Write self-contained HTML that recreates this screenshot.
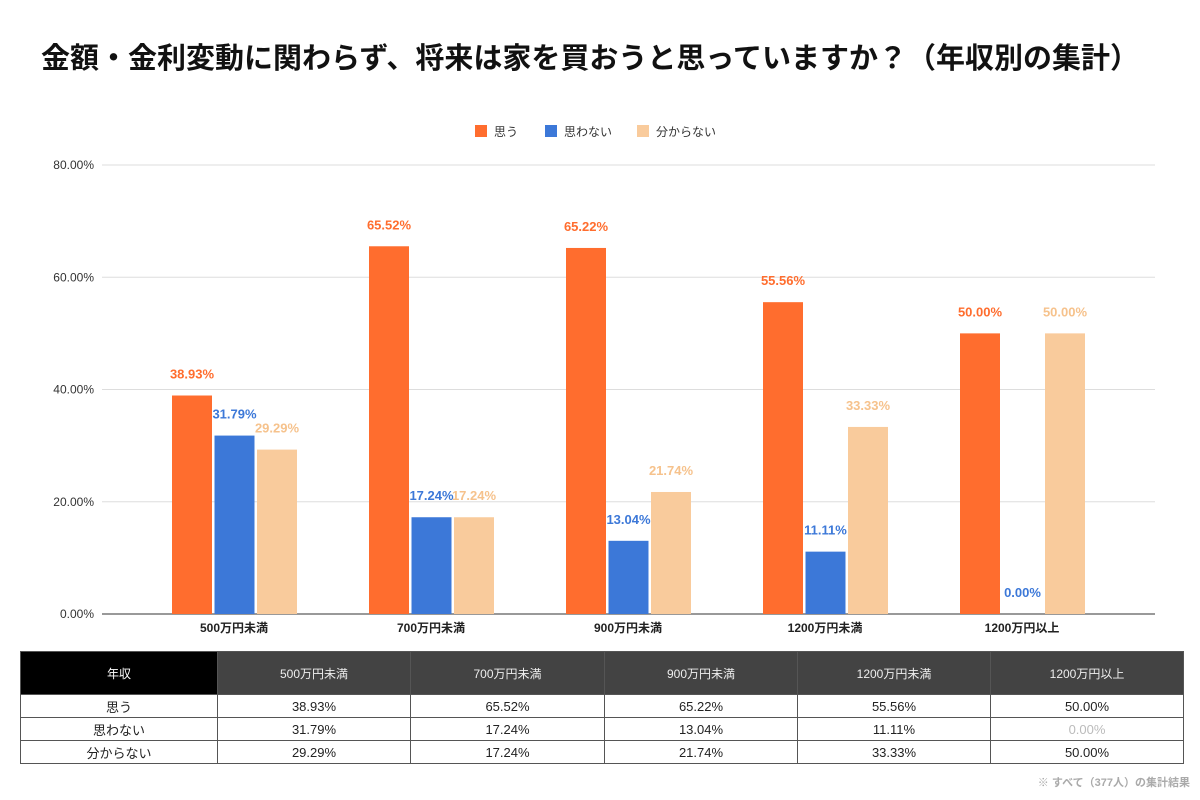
<!DOCTYPE html>
<html><head><meta charset="utf-8"><style>
body{margin:0;width:1200px;height:800px;background:#fff;font-family:"Liberation Sans","Noto Sans CJK JP",sans-serif;position:relative;overflow:hidden}
#title{position:absolute;left:0;top:35px;width:1180px;text-align:center;font-size:29px;font-weight:bold;color:#111;margin:0;white-space:nowrap}
svg{position:absolute;left:0;top:0}
table{position:absolute;left:20px;top:651px;width:1163px;border-collapse:collapse;table-layout:fixed;font-size:13px;color:#222}
td{border:1px solid #555;text-align:center;height:22px;padding:0}
tr.h td{background:#434343;color:#eee;height:42px;font-size:12px;border-color:#555}
tr.h td:first-child{background:#000;color:#fff}
#note{position:absolute;right:10px;top:774px;font-size:11px;color:#aaa;font-weight:bold}
</style></head><body>
<h1 id="title">金額・金利変動に関わらず、将来は家を買おうと思っていますか？（年収別の集計）</h1>
<svg id="chart" width="1200" height="650"></svg>
<table>
<colgroup><col style="width:197px"><col style="width:193px"><col style="width:194px"><col style="width:193px"><col style="width:193px"><col style="width:193px"></colgroup>
<tr class="h"><td>年収</td><td>500万円未満</td><td>700万円未満</td><td>900万円未満</td><td>1200万円未満</td><td>1200万円以上</td></tr>
<tr><td>思う</td><td>38.93%</td><td>65.52%</td><td>65.22%</td><td>55.56%</td><td>50.00%</td></tr>
<tr><td>思わない</td><td>31.79%</td><td>17.24%</td><td>13.04%</td><td>11.11%</td><td style="color:#bbb">0.00%</td></tr>
<tr><td>分からない</td><td>29.29%</td><td>17.24%</td><td>21.74%</td><td>33.33%</td><td>50.00%</td></tr>
</table>
<div id="note">※ すべて（377人）の集計結果</div>
<script>
const categories=["500万円未満","700万円未満","900万円未満","1200万円未満","1200万円以上"];
const seriesNames=["思う","思わない","分からない"];
const omou=[38.93,65.52,65.22,55.56,50.00];
const omowanai=[31.79,17.24,13.04,11.11,0.00];
const wakaranai=[29.29,17.24,21.74,33.33,50.00];
const yTicks=[0,20,40,60,80];
const colors=["#ff6d2e","#3c78d8","#f9cb9c"];
const NS="http://www.w3.org/2000/svg";
const svg=document.getElementById('chart');
const x0=102,x1=1155,y0=614,yTop=165;
const y=v=>y0-(v/80)*(y0-yTop);
const firstC=234,step=197;
function mk(t,a,txt){const e=document.createElementNS(NS,t);for(const k in a)e.setAttribute(k,a[k]);if(txt!==undefined)e.textContent=txt;svg.appendChild(e);return e;}
yTicks.forEach(t=>{
 const l=mk('line',{x1:x0,x2:x1,y1:y(t),y2:y(t),stroke:t===0?'#333':'#ddd','stroke-width':1});
 
 
 const tx=mk('text',{x:94,y:y(t)+4,'text-anchor':'end','font-size':12,fill:'#333'},t.toFixed(2)+'%');
 
 
});
const series=[omou,omowanai,wakaranai];
categories.forEach((c,i)=>{
 const cx=firstC+step*i;
 const tx=mk('text',{x:cx,y:y0+18,'text-anchor':'middle','font-size':12,'font-weight':'bold',fill:'#222'},c);
 
 
 series.forEach((s,j)=>{
  const bx=cx-62+j*42.5, v=s[i];
  const r=mk('rect',{x:bx,y:y(v),width:40,height:y0-y(v),fill:colors[j]});
  
  
  const lb=mk('text',{x:bx+20,y:y(v)-17,'text-anchor':'middle','font-size':13,'font-weight':'bold',fill:colors[j]==="#f9cb9c"?"#f6c28c":colors[j]},v.toFixed(2)+'%');
  
  
 });
});
const lx=[475,545,637];
seriesNames.forEach((n,j)=>{
 const r=mk('rect',{x:lx[j],y:125,width:12,height:12,fill:colors[j]});
 
 
 const t=mk('text',{x:lx[j]+19,y:136,'font-size':12,fill:'#333'},n);
 
 
});
</script>
</body></html>
